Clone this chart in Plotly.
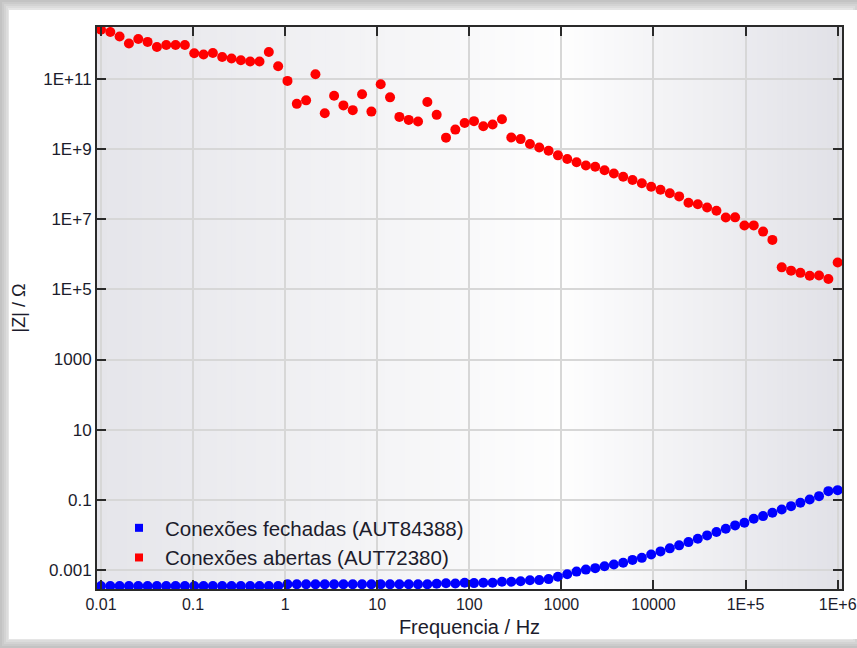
import plotly.graph_objects as go

# Impedance spectra: |Z| versus frequency for two connection states
freq_hz = [0.01, 0.01263, 0.01594, 0.02013, 0.02541, 0.03209, 0.04051, 0.05115, 0.06459, 0.08155,
           0.1030, 0.1300, 0.1641, 0.2072, 0.2617, 0.3304, 0.4171, 0.5267, 0.6650, 0.8396,
           1.060, 1.339, 1.690, 2.134, 2.694, 3.402, 4.295, 5.423, 6.846, 8.644,
           10.91, 13.78, 17.40, 21.97, 27.74, 35.02, 44.22, 55.83, 70.49, 89.00,
           112.4, 141.9, 179.1, 226.2, 285.6, 360.6, 455.3, 574.8, 725.8, 916.4,
           1157, 1461, 1844, 2329, 2940, 3713, 4687, 5918, 7473, 9435,
           11913, 15041, 18991, 23978, 30274, 38225, 48263, 60937, 76940, 97145,
           122656, 154866, 195535, 246883, 311716, 393575, 496927, 627422, 792188, 1000000]

z_fechadas = [3.41e-4, 3.41e-4, 3.41e-4, 3.41e-4, 3.41e-4, 3.41e-4, 3.41e-4, 3.41e-4, 3.41e-4, 3.41e-4,
              3.41e-4, 3.41e-4, 3.41e-4, 3.41e-4, 3.41e-4, 3.41e-4, 3.41e-4, 3.41e-4, 3.41e-4, 3.41e-4,
              3.85e-4, 3.85e-4, 3.85e-4, 3.85e-4, 3.85e-4, 3.85e-4, 3.85e-4, 3.85e-4, 3.85e-4, 3.85e-4,
              3.85e-4, 3.85e-4, 3.85e-4, 3.85e-4, 3.85e-4, 3.85e-4, 3.97e-4, 4.10e-4, 4.05e-4, 4.23e-4,
              4.15e-4, 4.23e-4, 4.23e-4, 4.52e-4, 4.52e-4, 4.67e-4, 4.99e-4, 5.06e-4, 5.40e-4, 6.28e-4,
              7.40e-4, 8.83e-4, 1.007e-3, 1.11e-3, 1.25e-3, 1.41e-3, 1.59e-3, 1.91e-3, 2.18e-3, 2.71e-3,
              3.34e-3, 4.07e-3, 4.96e-3, 6.15e-3, 7.69e-3, 9.55e-3, 1.19e-2, 1.48e-2, 1.84e-2, 2.20e-2,
              2.86e-2, 3.39e-2, 4.24e-2, 5.26e-2, 6.53e-2, 8.16e-2, 0.101, 0.126, 0.175, 0.187]

z_abertas = [2.6e12, 2.23e12, 1.65e12, 1.04e12, 1.41e12, 1.16e12, 8.3e11, 9.5e11, 9.5e11, 9.5e11,
             5.5e11, 5.05e11, 5.6e11, 4.3e11, 3.9e11, 3.48e11, 3.19e11, 3.19e11, 6.0e11, 2.35e11,
             8.95e10, 1.98e10, 2.49e10, 1.39e11, 1.07e10, 3.39e10, 1.79e10, 1.31e10, 3.74e10, 1.19e10,
             7.2e10, 3.03e10, 8.4e9, 6.9e9, 6.2e9, 2.24e10, 9.6e9, 2.15e9, 3.64e9, 5.65e9,
             6.36e9, 4.52e9, 5.12e9, 7.16e9, 2.18e9, 1.95e9, 1.41e9, 1.12e9, 9.06e8, 6.7e8,
             5.3e8, 4.27e8, 3.44e8, 3.17e8, 2.52e8, 2.03e8, 1.64e8, 1.33e8, 1.07e8, 8.5e7,
             6.97e7, 5.57e7, 4.52e7, 2.99e7, 2.71e7, 2.18e7, 1.77e7, 1.13e7, 1.14e7, 6.7e6,
             6.72e6, 4.47e6, 2.59e6, 4.27e5, 3.44e5, 2.97e5, 2.47e5, 2.5e5, 1.98e5, 5.84e5]

series_names = ["Conexões fechadas (AUT84388)", "Conexões abertas (AUT72380)"]
series_colors = ["#0000ff", "#ff0000"]

x_tickvals = [0.01, 0.1, 1, 10, 100, 1000, 10000, 1e5, 1e6]
x_ticktext = ["0.01", "0.1", "1", "10", "100", "1000", "10000", "1E+5", "1E+6"]
y_tickvals = [1e-3, 1e-1, 1e1, 1e3, 1e5, 1e7, 1e9, 1e11]
y_ticktext = ["0.001", "0.1", "10", "1000", "1E+5", "1E+7", "1E+9", "1E+11"]

# ---- page geometry (pixels) ----
W, H = 857, 648
ML, MR, MT, MB = 97, 15, 27, 59
PW = W - ML - MR
PH = H - MT - MB


def fx(px):
    return (px - ML) / PW


def fy(py):
    return (H - MB - py) / PH


shapes = []

# soft drop shadow around the white card
for inset, col in [(2, "#cbcbcb"), (4, "#d3d3d3"), (6, "#dcdcdc"), (8, "#e5e5e5")]:
    shapes.append(dict(type="rect", xref="paper", yref="paper", layer="below",
                       x0=fx(inset), x1=fx(W + 4 - inset), y0=fy(inset), y1=fy(H - inset),
                       line=dict(width=0), fillcolor=col))
shapes.append(dict(type="rect", xref="paper", yref="paper", layer="below",
                   x0=fx(9), x1=fx(W + 2), y0=fy(10), y1=fy(H - 9),
                   line=dict(width=0), fillcolor="#ffffff"))

# horizontal gradient in the plotting area: grey edges, white near 1 kHz
edge_left = (229, 229, 234)
edge_right = (225, 225, 231)
peak = (254, 254, 254)
t_peak = 0.623
n_strips = 150
for i in range(n_strips):
    t0 = i / n_strips
    t1 = (i + 1) / n_strips
    tc = 0.5 * (t0 + t1)
    if tc <= t_peak:
        s = tc / t_peak
        c = [edge_left[k] + (peak[k] - edge_left[k]) * s for k in range(3)]
    else:
        s = (tc - t_peak) / (1 - t_peak)
        c = [peak[k] + (edge_right[k] - peak[k]) * s for k in range(3)]
    col = "rgb(%d,%d,%d)" % tuple(round(v) for v in c)
    shapes.append(dict(type="rect", xref="paper", yref="paper", layer="below",
                       x0=t0, x1=t1 + 0.002, y0=0, y1=1,
                       line=dict(width=0), fillcolor=col))

fig = go.Figure()

for name, col, zvals in [(series_names[0], series_colors[0], z_fechadas),
                         (series_names[1], series_colors[1], z_abertas)]:
    fig.add_trace(go.Scatter(x=freq_hz, y=zvals, mode="markers", name=name,
                             marker=dict(color=col, size=10, line=dict(width=0)),
                             showlegend=False, cliponaxis=True))

# legend entries drawn with small square keys
for name, col in zip(series_names, series_colors):
    fig.add_trace(go.Scatter(x=[None], y=[None], mode="markers", name=name,
                             marker=dict(color=col, size=8, symbol="square")))

FONT = "Liberation Sans, Arial, sans-serif"
xtick_font = dict(family=FONT, size=16, color="#1c1c2c")
ytick_font = dict(family=FONT, size=17, color="#1c1c2c")

fig.update_layout(
    width=W, height=H,
    margin=dict(l=ML, r=MR, t=MT, b=MB, autoexpand=False),
    paper_bgcolor="#c3c3c3",
    plot_bgcolor="rgba(0,0,0,0)",
    shapes=shapes,
    showlegend=True,
    legend=dict(x=fx(113), y=fy(508), xanchor="left", yanchor="top",
                bgcolor="rgba(0,0,0,0)", borderwidth=0, itemwidth=42,
                font=dict(family=FONT, size=20.5, color="#1c1c2c"),
                tracegroupgap=0, itemsizing="trace"),
    xaxis=dict(type="log", range=[-2.043, 6.047],
               tickvals=x_tickvals, ticktext=x_ticktext, tickfont=xtick_font,
               ticks="inside", ticklen=9, tickwidth=2, tickcolor="#2a2a2a",
               showline=True, linecolor="#2a2a2a", linewidth=2, mirror="ticks",
               showgrid=True, gridcolor="#d7d7d7", gridwidth=2, zeroline=False,
               title=dict(text="Frequencia / Hz", standoff=8,
                          font=dict(family=FONT, size=20, color="#1c1c2c"))),
    yaxis=dict(type="log", range=[-3.55, 12.49],
               tickvals=y_tickvals, ticktext=y_ticktext, tickfont=ytick_font,
               ticks="inside", ticklen=9, tickwidth=2, tickcolor="#2a2a2a",
               showline=True, linecolor="#2a2a2a", linewidth=2, mirror="ticks",
               showgrid=True, gridcolor="#d7d7d7", gridwidth=2, zeroline=False,
               title=dict(text="|Z| / Ω", standoff=13,
                          font=dict(family=FONT, size=18, color="#1c1c2c"))),
)

fig.write_html("out.html")
